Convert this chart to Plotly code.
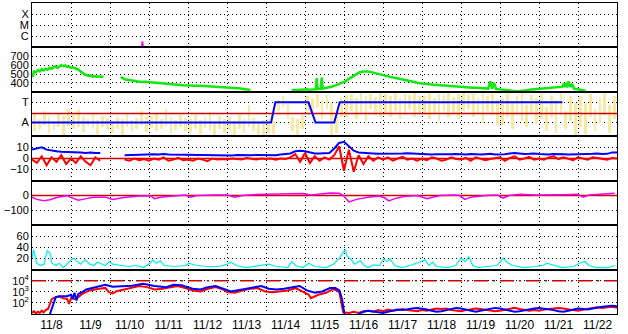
import plotly.graph_objects as go
from plotly.subplots import make_subplots

# ---------------- data ----------------
day_labels = ["11/8", "11/9", "11/10", "11/11", "11/12", "11/13", "11/14", "11/15",
              "11/16", "11/17", "11/18", "11/19", "11/20", "11/21", "11/22"]
label_pos = [i + 0.5 for i in range(15)]

# Panel 1: X-ray flux (W/m2)
xray_t = [2.80, 2.83, 2.86, None, 3.95, 3.97, 3.99]
xray_flux = [6e-8, 3.5e-7, 6e-8, None, 6e-8, 1.4e-7, 6e-8]

# Panel 2: solar wind speed (km/s)
speed_t = [0.00, 0.02, 0.05, 0.10, 0.15, 0.20, 0.25, 0.30, 0.35, 0.40, 0.45, 0.50, 0.55, 0.60,
           0.65, 0.70, 0.75, 0.80, 0.85, 0.90, 0.95, 1.00, 1.05, 1.10, 1.15, 1.20, 1.25, 1.30,
           1.35, 1.40, 1.45, 1.50, 1.55, 1.60, 1.65, 1.70, 1.75, 1.80, 1.83, None,
           2.28, 2.32, 2.40, 2.50, 2.60, 2.70, 2.80, 2.90, 3.00, 3.10, 3.20, 3.30, 3.40, 3.50,
           3.60, 3.70, 3.80, 3.90, 4.00, 4.10, 4.20, 4.30, 4.40, 4.50, 4.60, 4.70, 4.80, 4.90,
           5.00, 5.10, 5.20, 5.30, 5.40, 5.50, 5.60, None,
           6.66, 6.70, 6.80, 6.90, 7.00, 7.05, 7.10, 7.28, 7.30, 7.32, 7.40, 7.43, 7.45, 7.50,
           7.60, 7.70, 7.80, 7.90, 8.00, 8.05, 8.10, 8.20, 8.30, 8.40, 8.50, 8.60, 8.70, 8.80,
           8.90, 9.00, 9.10, 9.20, 9.30, 9.40, 9.50, 9.60, 9.70, 9.80, 9.90, 10.00, 10.10,
           10.20, 10.30, 10.40, 10.50, 10.60, 10.70, 10.80, 10.90, 11.00, 11.10, 11.20, 11.30,
           11.40, 11.50, 11.60, 11.70, 11.75, 11.78, 11.80, 11.85, 11.88, 11.90, 12.00, 12.10,
           12.20, 12.30, 12.40, 12.50, 12.60, 12.70, 12.80, 12.90, 13.00, 13.10, 13.20, 13.30,
           13.40, 13.50, 13.60, 13.62, 13.65, 13.70, 13.72, 13.75, 13.78, 13.80, 13.85, 13.88,
           13.90, 14.00, 14.10, 14.20]
speed_v = [510, 470, 530, 520, 545, 530, 555, 540, 560, 548, 570, 560, 575, 585,
           570, 590, 600, 590, 598, 580, 585, 570, 578, 565, 560, 545, 525, 505,
           495, 490, 480, 485, 472, 478, 470, 475, 468, 472, 470, None,
           470, 455, 440, 432, 425, 420, 412, 415, 410, 412, 405, 398, 395, 388,
           385, 380, 378, 375, 376, 372, 370, 368, 366, 362, 360, 358, 356, 352,
           350, 346, 344, 340, 336, 330, 322, None,
           318, 322, 320, 325, 322, 330, 325, 330, 455, 330, 335, 460, 335, 340,
           345, 360, 375, 392, 405, 420, 440, 470, 500, 520, 528, 530, 522, 510,
           498, 485, 475, 466, 458, 450, 440, 430, 420, 410, 400, 393, 388,
           384, 380, 376, 372, 368, 365, 362, 358, 355, 352, 350, 347,
           345, 342, 340, 337, 420, 337, 335, 400, 333, 332, 328, 322,
           316, 310, 306, 308, 316, 322, 326, 330, 335, 338, 340, 345,
           348, 352, 358, 395, 355, 400, 350, 420, 360, 355, 390, 340,
           335, 330, 320, 310]

# Panel 3: index (A = 0, T = 1)
idx_t = [0.0, 6.13, 6.24, 7.09, 7.27, 7.75, 7.89, 13.6]
idx_v = [0, 0, 1, 1, 0, 0, 1, 1]
idx_threshold = 0.45
yel_hi = [0.5, 0.2, 0.6, 0.3, 0.1, 0.5, 0.35, 0.7,
          0.4, 0.65, 0.3, 0.2, 0.5, 0.15, 0.35, 0.25,
          0.1, 0.3, 0.2, 0.45, 0.15, 0.25, 0.6, 0.3,
          0.35, 0.5, 0.2, 0.7, 0.3, 0.15, 0.4, 0.25,
          0.2, 0.4, 0.15, 0.3, 0.55, 0.1, 0.35, 0.2,
          0.3, 0.1, 0.45, 0.2, 0.9, 0.25, 0.05, 0.15,
          0.2, 0.1, 1.1, 1.3, 0.95, 0.3, 0.2, 0.4,
          1.3, 1.2, 1.4, 1.1, 1.35, 1.0, 0.4, 1.2,
          1.35, 1.4, 1.2, 1.45, 1.3, 1.4, 1.25, 1.45,
          1.4, 1.3, 1.45, 1.2, 1.4, 1.35, 1.45, 1.3,
          1.3, 1.45, 1.2, 1.4, 1.35, 1.45, 1.25, 1.4,
          1.45, 1.35, 1.4, 1.2, 1.45, 1.3, 1.4, 1.1,
          1.2, 1.4, 1.0, 1.3, 1.45, 0.9, 1.35, 1.2,
          1.4, 0.8, 1.3, 1.1, 1.45, 0.6, 1.3, 1.0,
          1.3, 1.0, 1.4, 0.7, 1.2, 1.45, 0.9, 1.3]
yel_lo = [-0.4, -0.3, -0.1, -0.5, -0.35, -0.2, -0.6, -0.15,
          -0.3, -0.2, -0.45, -0.1, -0.3, -0.55, -0.2, -0.35,
          -0.5, -0.3, -0.6, -0.2, -0.4, -0.3, -0.1, -0.45,
          -0.25, -0.4, -0.3, -0.15, -0.5, -0.35, -0.2, -0.4,
          -0.45, -0.3, -0.55, -0.25, -0.4, -0.6, -0.3, -0.5,
          -0.35, -0.6, -0.3, -0.5, -0.2, -0.4, -0.55, -0.6,
          -0.5, -0.55, 0.6, 0.8, 0.2, -0.4, -0.6, -0.3,
          0.6, 0.5, 0.8, 0.2, 0.7, -0.6, -0.5, 0.3,
          0.3, 0.6, 0.2, 0.5, 0.1, 0.7, 0.4, 0.3,
          0.5, 0.3, 0.6, 0.2, 0.4, 0.7, 0.3, 0.45,
          0.4, 0.2, 0.5, 0.1, 0.6, 0.3, 0.5, 0.2,
          0.6, 0.7, 0.3, 0.5, 0.0, 0.6, 0.4, -0.1,
          -0.1, 0.3, -0.3, 0.4, 0.1, -0.2, 0.5, 0.0,
          0.2, -0.4, 0.3, -0.5, 0.4, -0.3, 0.1, -0.6,
          -0.2, -0.55, 0.3, -0.4, 0.0, 0.4, -0.5, 0.2]
yel_t = [0.0625 + 0.125 * k for k in range(len(yel_hi))]

# Panel 4: IMF Bt (blue) and Bz (red), nT, 3-hourly
imf_t = [0.125 * k for k in range(121)]
imf_bt = [8, 9, 10, 8, 7, 6.5, 6, 6,
          5.5, 6, 5.5, 5, 5.5, 5, 5, None,
          None, None, None, 3, 3.2, 3, 3.5, 3.2,
          3.5, 3.8, 3.5, 4, 3.6, 3.5, 3.8, 3.5,
          3.5, 3.2, 3, 3.3, 3.0, 3.2, 3.0, 2.8,
          3.0, 2.8, 3.2, 3.0, 2.8, 3.0, 3.2, 3.0,
          3.0, 3.2, 3.0, 3.5, 3.8, 4.5, 6.5, 7,
          6.5, 5.5, 4.5, 4.5, 4.8, 5, 9, 14,
          15, 11, 7, 5.5, 5, 4.5, 4.5, 4.2,
          4.2, 4.5, 4.0, 4.2, 4.5, 4.8, 4.5, 4.2,
          4.0, 3.8, 3.5, 3.8, 3.6, 3.5, 3.8, 4.0,
          3.8, 3.5, 4.0, 3.6, 3.5, 3.8, 4.2, 3.6,
          3.5, 3.8, 4.5, 5.0, 4.5, 4.0, 4.2, 4.5,
          4.0, 3.8, 3.5, 4.0, 4.2, 3.8, 3.5, 3.5,
          3.5, 3.8, 4.0, 4.2, 4.5, 4.0, 4.2, 5.5,
          5.5]
imf_bz = [-1, -4, 2, -6, 1, -3, 3, -5,
          0, -4, 2, -3, -6, 1, -2, None,
          None, None, None, -1, -2, 0, -1.5, -0.5,
          -2, 0, -1, 1, -2, -1, 0.5, -1.5,
          -1, -2, 0, -1, -2.5, 0, -1, -0.5,
          -1, 0, -0.5, -1, 0.5, -0.5, -1, 0,
          -0.5, 0, -1, 0, -0.5, 1, 4, -3,
          5, -4, 2, -2, 1, -1, 3, 11,
          -11, 8, -12, 3, -5, 2, -2, 1,
          -1, 1, -2, 0, 1.5, -1, 0, -2,
          0, -1.5, 1, 0, -2, -1, 1, -0.5,
          -1, 0.5, -2, 1, 0, -1.5, -0.5, 0,
          1, -2, 0.5, 2, -1, 0, 1.5, -1,
          0, -1, 1, 2, -0.5, 1, 0, -1.5,
          1, 0, -1, 1, 0.5, 0, -1, 0.5,
          0]

# Panel 5: Dst (nT)
dst_t = [0.00, 0.12, 0.31, 0.46, 0.61, 0.90, 0.98, 1.19, 1.39, 1.58, 1.88, 2.07, 2.36, 2.75,
         3.05, 3.14, 3.29, 3.63, 3.93, 4.07, 4.22, 4.71, 5.00, 5.20, 5.39, 5.68, 6.17, 6.66,
         6.95, 7.15, 7.64, 7.88, 7.98, 8.13, 8.32, 8.61, 8.91, 9.05, 9.15, 9.30, 9.54, 9.88,
         10.03, 10.13, 10.27, 10.47, 10.86, 10.96, 11.10, 11.25, 11.64, 11.93, 12.08, 12.23,
         12.52, 12.91, 13.59, 13.98, 14.13, 14.28, 14.57, 14.94]
dst_v = [-11, -26, -35, -28, -15, 0, -11, -32, -21, -11, -11, -26, -13, -4,
         -4, -21, -11, -4, 4, -11, 0, 4, 4, -11, 0, 6, 9, 13,
         13, 4, 17, 15, 0, -43, -26, -11, -4, -17, -36, -21, -6, 0,
         -11, -21, -11, 0, 4, 0, -26, -11, 0, 4, -17, 0,
         9, 4, 6, 9, -11, 4, 9, 15]

# Panel 6: density (/cc)
den_t = [0.00, 0.04, 0.12, 0.21, 0.31, 0.39, 0.46, 0.51, 0.61, 0.70, 0.80, 0.90, 1.00, 1.07,
         1.14, 1.24, 1.37, 1.48, 1.58, 1.68, 1.88, 1.99, 2.07, 2.27, 2.46, 2.66, 2.85, 3.03,
         3.10, 3.19, 3.29, 3.39, 3.63, 3.93, 4.02, 4.22, 4.51, 4.80, 5.00, 5.10, 5.24, 5.49,
         5.78, 6.07, 6.27, 6.56, 6.66, 6.76, 6.95, 7.10, 7.25, 7.54, 7.73, 7.88, 7.95, 8.03,
         8.08, 8.17, 8.27, 8.42, 8.52, 8.61, 8.76, 8.91, 9.02, 9.10, 9.18, 9.30, 9.49, 9.69,
         9.98, 10.08, 10.18, 10.27, 10.37, 10.66, 10.86, 11.00, 11.10, 11.20, 11.30, 11.45,
         11.64, 11.93, 12.08, 12.18, 12.32, 12.62, 12.91, 13.11, 13.20, 13.40, 13.59, 13.89,
         14.03, 14.18, 14.28, 14.47, 14.77, 14.94]
den_v = [20.6, 35.8, 11.5, 7.3, 9.7, 34, 29.7, 11.5, 7.3, 11.5, 3.6, 9.7, 17.6, 20.6,
         15.8, 9.7, 17.6, 9.7, 7.3, 13.3, 7.3, 14.5, 9.7, 7.3, 5.5, 7.3, 3.6, 11.5,
         17.6, 11.5, 15.8, 7.3, 5.5, 7.3, 11.5, 7.3, 5.5, 5.5, 9.7, 13.3, 7.3, 3.6,
         7.3, 9.7, 5.5, 3.6, 14.5, 7.3, 3.6, 11.5, 5.5, 3.6, 9.7, 20.6, 27.9, 35.8,
         23.6, 19.4, 9.7, 15.8, 7.3, 3.6, 8.5, 7.3, 19.4, 14.5, 19.4, 7.3, 3.6, 7.3,
         14.5, 17.6, 7.3, 13.3, 5.5, 3.6, 7.3, 20.6, 14.5, 23, 7.3, 3.6,
         5.5, 7.3, 20.6, 13.3, 7.3, 3.6, 5.5, 7.3, 11.5, 7.3, 3.6, 5.5,
         11.5, 14.5, 7.3, 3.6, 3.6, 7.3]

# Panel 7: electron flux, log10 values (red and blue channels)
e_red_t = [0.00, 0.05, 0.10, 0.15, 0.20, 0.25, 0.30, 0.35, 0.41, 0.51, 0.61, 0.70, 0.80, 0.90,
           0.95, 1.00, 1.09, 1.19, 1.29, 1.48, 1.68, 1.88, 1.97, 2.07, 2.17, 2.36, 2.56, 2.75,
           2.95, 3.14, 3.34, 3.54, 3.73, 3.93, 4.12, 4.32, 4.51, 4.71, 4.90, 5.00, 5.20, 5.39,
           5.59, 5.78, 5.98, 6.17, 6.37, 6.56, 6.76, 6.95, 7.10, 7.15, 7.34, 7.54, 7.73, 7.88,
           7.93, 7.98,
           8.125, 8.25, 8.375, 8.5, 8.625, 8.75, 8.875, 9.0, 9.125, 9.25, 9.375, 9.5, 9.625,
           9.75, 9.875, 10.0, 10.125, 10.25, 10.375, 10.5, 10.625, 10.75, 10.875, 11.0, 11.125,
           11.25, 11.375, 11.5, 11.625, 11.75, 11.875, 12.0, 12.125, 12.25, 12.375, 12.5,
           12.625, 12.75, 12.875, 13.0, 13.125, 13.25, 13.375, 13.5, 13.625, 13.75, 13.875,
           14.0, 14.125, 14.25, 14.375, 14.5, 14.625, 14.75, 14.875, 15.0]
e_red_log = [1.10, 1.25, 1.05, 1.20, 1.10, 1.30, 1.15, 1.35, 1.45, 2.36, 2.52, 2.58, 2.42, 2.36,
             1.90, 2.42, 2.36, 2.52, 2.82, 3.12, 3.25, 3.35, 2.97, 2.85, 3.05, 3.21, 3.35, 3.52,
             3.42, 3.21, 3.27, 3.42, 3.52, 3.33, 3.12, 3.03, 3.27, 3.42, 3.21, 2.97, 2.91, 3.12,
             3.27, 3.33, 3.03, 2.97, 3.03, 3.12, 3.33, 3.03, 2.73, 2.42, 2.73, 2.91, 3.27, 2.97,
             2.06, 1.15,
             1.10, 1.20, 1.10, 1.25, 1.30, 1.20, 1.35, 1.25, 1.40, 1.30, 1.35, 1.45, 1.35,
             1.30, 1.25, 1.35, 1.30, 1.40, 1.50, 1.45, 1.50, 1.35, 1.30, 1.25, 1.35,
             1.45, 1.50, 1.45, 1.40, 1.30, 1.25, 1.30, 1.40, 1.50, 1.55, 1.45,
             1.40, 1.30, 1.35, 1.30, 1.40, 1.45, 1.50, 1.55, 1.50, 1.40, 1.35,
             1.30, 1.40, 1.50, 1.55, 1.60, 1.55, 1.60, 1.65, 1.55]
e_blue_t = [0.46, 0.53, 0.61, 0.70, 0.90, 1.00, 1.04, 1.09, 1.14, 1.19, 1.29, 1.39, 1.58, 1.88,
            2.07, 2.27, 2.56, 2.85, 3.14, 3.44, 3.63, 3.83, 4.12, 4.32, 4.51, 4.71, 4.90, 5.10,
            5.39, 5.68, 5.88, 6.07, 6.27, 6.46, 6.66, 6.86, 7.05, 7.25, 7.44, 7.64, 7.78, 7.88,
            7.95, 8.01, None,
            8.375, 8.5, 8.625, 8.75, 8.875, 9.0, 9.125, 9.25, 9.375, 9.5, 9.625, 9.75, 9.875,
            10.0, 10.125, 10.25, 10.375, 10.5, 10.625, 10.75, 10.875, 11.0, 11.125, 11.25,
            11.375, 11.5, 11.625, 11.75, 11.875, 12.0, 12.125, 12.25, 12.375, 12.5, 12.625,
            12.75, 12.875, 13.0, 13.125, 13.25, 13.375, 13.5, 13.625, 13.75, 13.875, 14.0,
            14.125, 14.25, 14.375, 14.5, 14.625, 14.75, 14.875, 15.0]
e_blue_log = [1.00, 1.76, 2.52, 2.60, 2.60, 2.73, 2.36, 2.91, 2.21, 2.82, 2.97, 3.21, 3.40, 3.64,
              3.45, 3.50, 3.55, 3.73, 3.52, 3.42, 3.64, 3.58, 3.27, 3.21, 3.42, 3.52, 3.27, 3.03,
              3.21, 3.42, 3.52, 3.27, 3.21, 3.27, 3.42, 3.52, 3.12, 2.91, 3.03, 3.33, 3.33, 3.12,
              2.36, 1.00, None,
              1.00, 1.20, 1.30, 1.25, 1.15, 1.10, 1.20, 1.30, 1.40, 1.35, 1.45, 1.50, 1.55,
              1.50, 1.40, 1.30, 1.20, 1.25, 1.35, 1.45, 1.55, 1.50, 1.40, 1.30,
              1.20, 1.30, 1.40, 1.50, 1.55, 1.50, 1.40, 1.30, 1.20, 1.25, 1.35,
              1.45, 1.50, 1.55, 1.50, 1.40, 1.35, 1.25, 1.20, 1.30, 1.40, 1.50,
              1.45, 1.40, 1.50, 1.60, 1.65, 1.70, 1.75, 1.70]
e_threshold = 1e4

# ---------------- figure ----------------
FONT = "Liberation Sans, Arial, sans-serif"
DOT = "1px,3px"

fig = make_subplots(rows=7, cols=1, shared_xaxes=True, vertical_spacing=0)

# panel 1
fig.add_trace(go.Scatter(x=xray_t, y=xray_flux, mode="lines",
                         line=dict(color="#FF00FF", width=1.5)), row=1, col=1)
# panel 2
fig.add_trace(go.Scatter(x=speed_t, y=speed_v, mode="lines",
                         line=dict(color="#10E810", width=2.5)), row=2, col=1)
# panel 3
fig.add_trace(go.Bar(x=yel_t, y=[h - l for h, l in zip(yel_hi, yel_lo)], base=yel_lo,
                     width=0.07, marker=dict(color="#F9EAA2", line=dict(width=0))), row=3, col=1)
fig.add_trace(go.Scatter(x=[0, 15], y=[idx_threshold, idx_threshold], mode="lines",
                         line=dict(color="#CC0000", width=1.5)), row=3, col=1)
fig.add_trace(go.Scatter(x=idx_t, y=idx_v, mode="lines",
                         line=dict(color="#0000FF", width=2)), row=3, col=1)
# panel 4
fig.add_trace(go.Scatter(x=[0, 15], y=[0, 0], mode="lines",
                         line=dict(color="#CC0000", width=1.5)), row=4, col=1)
fig.add_trace(go.Scatter(x=imf_t, y=imf_bt, mode="lines",
                         line=dict(color="#0000FF", width=2)), row=4, col=1)
fig.add_trace(go.Scatter(x=imf_t, y=imf_bz, mode="lines",
                         line=dict(color="#FF0000", width=2)), row=4, col=1)
# panel 5
fig.add_trace(go.Scatter(x=[0, 15], y=[0, 0], mode="lines",
                         line=dict(color="#CC0000", width=1.5)), row=5, col=1)
fig.add_trace(go.Scatter(x=dst_t, y=dst_v, mode="lines",
                         line=dict(color="#EE00EE", width=1.5)), row=5, col=1)
# panel 6
fig.add_trace(go.Scatter(x=den_t, y=den_v, mode="lines",
                         line=dict(color="#00EEEE", width=1.2)), row=6, col=1)
# panel 7
fig.add_trace(go.Scatter(x=[0, 15], y=[e_threshold, e_threshold], mode="lines",
                         line=dict(color="#CC0000", width=1.5, dash="14px,5px,2px,5px")), row=7, col=1)
fig.add_trace(go.Scatter(x=e_red_t, y=[10 ** v for v in e_red_log], mode="lines",
                         line=dict(color="#FF0000", width=2)), row=7, col=1)
fig.add_trace(go.Scatter(x=e_blue_t, y=[None if v is None else 10 ** v for v in e_blue_log],
                         mode="lines", line=dict(color="#0000FF", width=2)), row=7, col=1)

axis_common = dict(showline=True, linecolor="black", linewidth=1, mirror=True,
                   zeroline=False, ticks="")

for r in range(1, 8):
    fig.update_xaxes(range=[0, 15], tickmode="array", tickvals=label_pos, ticktext=day_labels,
                     showgrid=False, tickfont=dict(family=FONT, size=12, color="black"),
                     minor=dict(tickmode="linear", tick0=0, dtick=1, showgrid=True,
                                gridcolor="black", griddash=DOT, gridwidth=1, ticks=""),
                     **axis_common, row=r, col=1)

ygrid = dict(showgrid=True, gridcolor="black", griddash=DOT, gridwidth=1,
             tickfont=dict(family=FONT, size=11, color="black"))
fig.update_yaxes(type="log", range=[-7, -3], tickmode="array", tickvals=[1e-4, 1e-5, 1e-6],
                 ticktext=["X", "M", "C"], **ygrid, **axis_common, row=1, col=1)
fig.update_yaxes(range=[300, 800], tickmode="array", tickvals=[400, 500, 600, 700],
                 **ygrid, **axis_common, row=2, col=1)
fig.update_yaxes(range=[-0.68, 1.52], tickmode="array", tickvals=[0, 1], ticktext=["A", "T"],
                 **ygrid, **axis_common, row=3, col=1)
fig.update_yaxes(range=[-20, 20], tickmode="array", tickvals=[-10, 0, 10],
                 **ygrid, **axis_common, row=4, col=1)
fig.update_yaxes(range=[-200, 100], tickmode="array", tickvals=[-100, 0],
                 **ygrid, **axis_common, row=5, col=1)
fig.update_yaxes(range=[0, 80], tickmode="array", tickvals=[20, 40, 60],
                 **ygrid, **axis_common, row=6, col=1)
fig.update_yaxes(type="log", range=[1, 5], tickmode="array", tickvals=[1e2, 1e3, 1e4],
                 ticktext=["10<sup>2</sup>", "10<sup>3</sup>", "10<sup>4</sup>"],
                 **ygrid, **axis_common, row=7, col=1)

fig.update_layout(width=628, height=334, margin=dict(l=32, r=11, t=2, b=17),
                  paper_bgcolor="white", plot_bgcolor="white", showlegend=False,
                  font=dict(family=FONT, size=12, color="black"), bargap=0)

fig.write_html("out.html", config={"displayModeBar": False},
               post_script="document.body.style.margin='0px';")
